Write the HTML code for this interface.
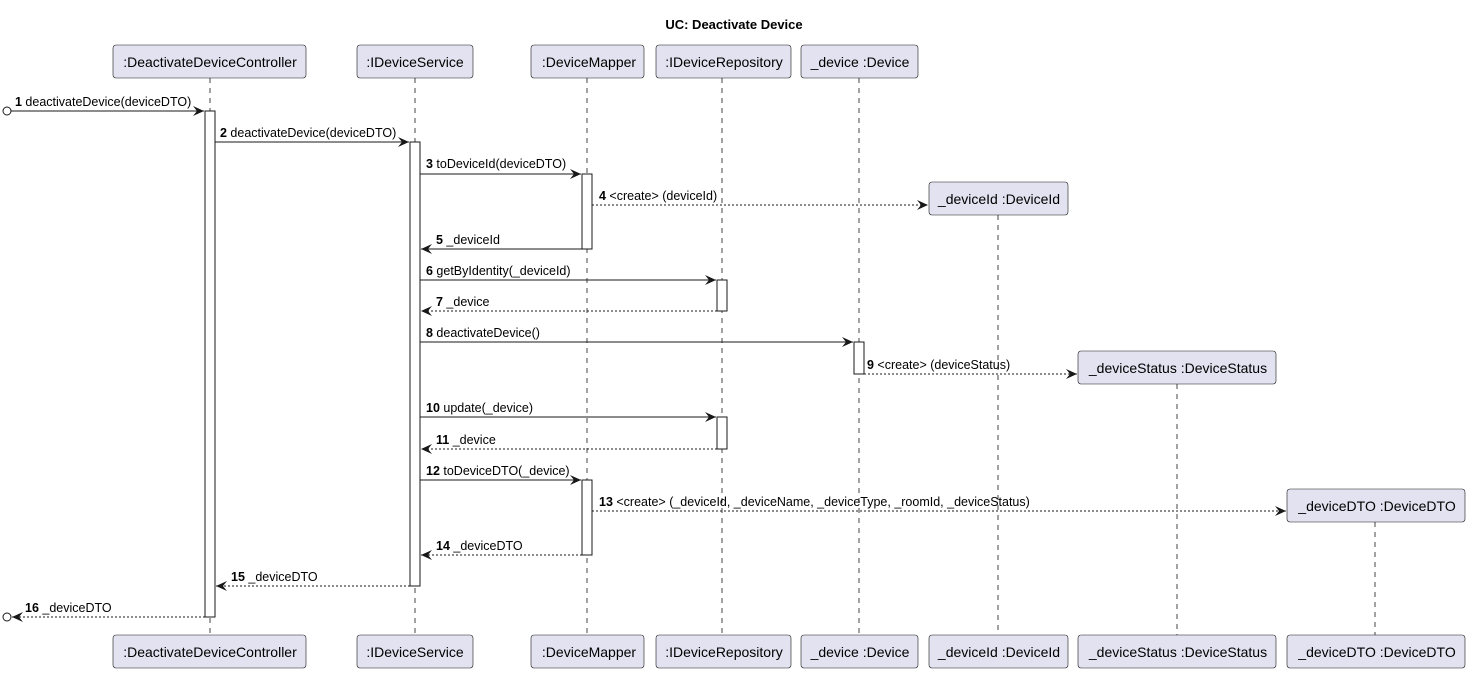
<!DOCTYPE html>
<html><head><meta charset="utf-8"><style>
body{margin:0;background:#fff}
svg text{font-family:"Liberation Sans",Arial,sans-serif;font-size:12.5px;fill:#000}
</style></head><body>
<svg width="1469" height="672" viewBox="0 0 1469 672" xmlns="http://www.w3.org/2000/svg">
<defs>
<marker id="a" markerWidth="12" markerHeight="10" refX="11" refY="5" orient="auto" markerUnits="userSpaceOnUse"><path d="M0,0 L11,5 L0,10 L4,5 Z" fill="#181818"/></marker>
</defs>
<text x="734" y="29" text-anchor="middle" style="font-weight:bold;font-size:13px">UC: Deactivate Device</text>
<g stroke="#181818" stroke-dasharray="5,5" stroke-width="0.8">
<line x1="210" y1="78" x2="210" y2="635"/>
<line x1="415" y1="78" x2="415" y2="635"/>
<line x1="587" y1="78" x2="587" y2="635"/>
<line x1="722" y1="78" x2="722" y2="635"/>
<line x1="859" y1="78" x2="859" y2="635"/>
<line x1="998" y1="215" x2="998" y2="635"/>
<line x1="1177" y1="384" x2="1177" y2="635"/>
<line x1="1375" y1="522" x2="1375" y2="635"/>
</g>
<g fill="#E2E2F0" stroke="#181818" stroke-width="0.6">
<rect x="113" y="45" width="193" height="33" rx="3"/><rect x="113" y="635" width="193" height="33" rx="3"/>
<rect x="357" y="45" width="116" height="33" rx="3"/><rect x="357" y="635" width="116" height="33" rx="3"/>
<rect x="531" y="45" width="113" height="33" rx="3"/><rect x="531" y="635" width="113" height="33" rx="3"/>
<rect x="656" y="45" width="135" height="33" rx="3"/><rect x="656" y="635" width="135" height="33" rx="3"/>
<rect x="801" y="45" width="117" height="33" rx="3"/><rect x="801" y="635" width="117" height="33" rx="3"/>
<rect x="929" y="182" width="139" height="33" rx="3"/><rect x="929" y="635" width="139" height="33" rx="3"/>
<rect x="1078" y="351" width="198" height="33" rx="3"/><rect x="1078" y="635" width="198" height="33" rx="3"/>
<rect x="1287" y="489" width="178" height="33" rx="3"/><rect x="1287" y="635" width="178" height="33" rx="3"/>
</g>
<g text-anchor="middle">
<text x="210" y="67" style="font-size:14px">:DeactivateDeviceController</text><text x="210" y="657" style="font-size:14px">:DeactivateDeviceController</text>
<text x="415" y="67" style="font-size:14px">:IDeviceService</text><text x="415" y="657" style="font-size:14px">:IDeviceService</text>
<text x="589" y="67" style="font-size:14px">:DeviceMapper</text><text x="589" y="657" style="font-size:14px">:DeviceMapper</text>
<text x="724" y="67" style="font-size:14px">:IDeviceRepository</text><text x="724" y="657" style="font-size:14px">:IDeviceRepository</text>
<text x="860" y="67" style="font-size:14px">_device :Device</text><text x="860" y="657" style="font-size:14px">_device :Device</text>
<text x="999" y="204" style="font-size:14px">_deviceId :DeviceId</text><text x="999" y="657" style="font-size:14px">_deviceId :DeviceId</text>
<text x="1178" y="373" style="font-size:14px">_deviceStatus :DeviceStatus</text><text x="1178" y="657" style="font-size:14px">_deviceStatus :DeviceStatus</text>
<text x="1377" y="511" style="font-size:14px">_deviceDTO :DeviceDTO</text><text x="1377" y="657" style="font-size:14px">_deviceDTO :DeviceDTO</text>
</g>
<g fill="#fff" stroke="#181818" stroke-width="1">
<rect x="205" y="111" width="10" height="506"/>
<rect x="410" y="142" width="10" height="444"/>
<rect x="582" y="174" width="10" height="75"/>
<rect x="582" y="480" width="10" height="75"/>
<rect x="717" y="280" width="10" height="31"/>
<rect x="717" y="417" width="10" height="32"/>
<rect x="854" y="342" width="10" height="32"/>
</g>
<g stroke="#181818" stroke-width="1" fill="none">
<circle cx="7" cy="111" r="4"/><circle cx="7" cy="617" r="4"/>
<line x1="11" y1="111" x2="204" y2="111" marker-end="url(#a)"/>
<line x1="215" y1="142" x2="409" y2="142" marker-end="url(#a)"/>
<line x1="420" y1="174" x2="581" y2="174" marker-end="url(#a)"/>
<line x1="592" y1="205" x2="928" y2="205" stroke-dasharray="2,2" marker-end="url(#a)"/>
<line x1="582" y1="249" x2="421" y2="249" marker-end="url(#a)"/>
<line x1="420" y1="280" x2="716" y2="280" marker-end="url(#a)"/>
<line x1="717" y1="311" x2="421" y2="311" stroke-dasharray="2,2" marker-end="url(#a)"/>
<line x1="420" y1="342" x2="853" y2="342" marker-end="url(#a)"/>
<line x1="864" y1="374" x2="1077" y2="374" stroke-dasharray="2,2" marker-end="url(#a)"/>
<line x1="420" y1="417" x2="716" y2="417" marker-end="url(#a)"/>
<line x1="717" y1="449" x2="421" y2="449" stroke-dasharray="2,2" marker-end="url(#a)"/>
<line x1="420" y1="480" x2="581" y2="480" marker-end="url(#a)"/>
<line x1="592" y1="511" x2="1286" y2="511" stroke-dasharray="2,2" marker-end="url(#a)"/>
<line x1="582" y1="555" x2="421" y2="555" stroke-dasharray="2,2" marker-end="url(#a)"/>
<line x1="410" y1="586" x2="216" y2="586" stroke-dasharray="2,2" marker-end="url(#a)"/>
<line x1="205" y1="617" x2="12" y2="617" stroke-dasharray="2,2" marker-end="url(#a)"/>
</g>
<g>
<text x="15" y="106"><tspan font-weight="bold">1</tspan> deactivateDevice(deviceDTO)</text>
<text x="220" y="137"><tspan font-weight="bold">2</tspan> deactivateDevice(deviceDTO)</text>
<text x="426" y="168"><tspan font-weight="bold">3</tspan> toDeviceId(deviceDTO)</text>
<text x="599" y="200"><tspan font-weight="bold">4</tspan> &lt;create&gt; (deviceId)</text>
<text x="436" y="244"><tspan font-weight="bold">5</tspan> _deviceId</text>
<text x="426" y="275"><tspan font-weight="bold">6</tspan> getByIdentity(_deviceId)</text>
<text x="436" y="306"><tspan font-weight="bold">7</tspan> _device</text>
<text x="426" y="337"><tspan font-weight="bold">8</tspan> deactivateDevice()</text>
<text x="867" y="369"><tspan font-weight="bold">9</tspan> &lt;create&gt; (deviceStatus)</text>
<text x="426" y="412"><tspan font-weight="bold">10</tspan> update(_device)</text>
<text x="436" y="444"><tspan font-weight="bold">11</tspan> _device</text>
<text x="426" y="475"><tspan font-weight="bold">12</tspan> toDeviceDTO(_device)</text>
<text x="599" y="506"><tspan font-weight="bold">13</tspan> &lt;create&gt; (_deviceId, _deviceName, _deviceType, _roomId, _deviceStatus)</text>
<text x="436" y="550"><tspan font-weight="bold">14</tspan> _deviceDTO</text>
<text x="231" y="581"><tspan font-weight="bold">15</tspan> _deviceDTO</text>
<text x="25" y="612"><tspan font-weight="bold">16</tspan> _deviceDTO</text>
</g>
</svg>
</body></html>
